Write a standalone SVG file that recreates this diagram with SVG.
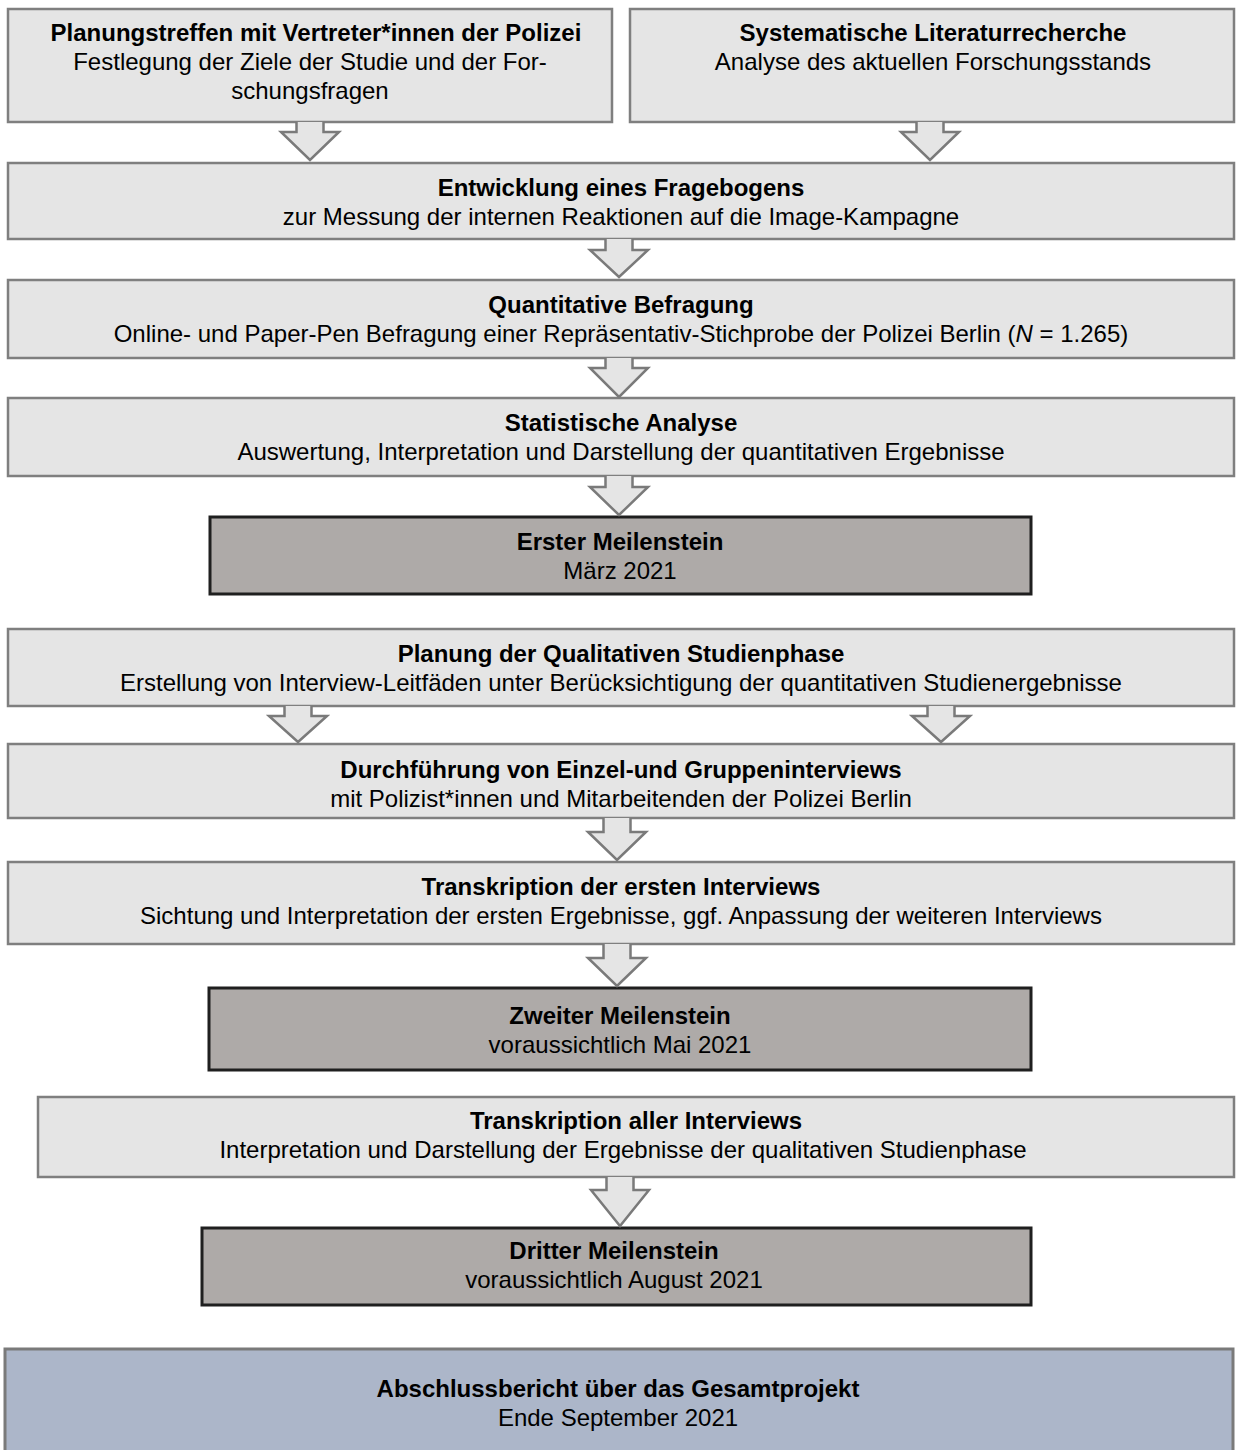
<svg xmlns="http://www.w3.org/2000/svg" width="1236" height="1450" viewBox="0 0 1236 1450">
<style>
.box{fill:#e5e5e5;stroke:#7f7f7f;stroke-width:2.5}
.ms{fill:#aeaaa8;stroke:#1f1f1f;stroke-width:3}
.fin{fill:#acb6c9;stroke:#7a7a7a;stroke-width:3}
.arr{fill:#e5e5e5;stroke:#7a7a7a;stroke-width:2.5;stroke-linejoin:miter}
text{font-family:"Liberation Sans",Arial,sans-serif;font-size:24px;fill:#000;text-anchor:middle}
.t{font-weight:bold}
</style>
<rect width="1236" height="1450" fill="#fff"/>
<g id="n1"><rect class="box" x="8" y="9" width="604" height="113"/>
<text class="t" x="316" y="41">Planungstreffen mit Vertreter*innen der Polizei</text>
<text x="310" y="70">Festlegung der Ziele der Studie und der For-</text>
<text x="310" y="99">schungsfragen</text></g>
<g id="n2"><rect class="box" x="630" y="9" width="604" height="113"/>
<text class="t" x="933" y="41">Systematische Literaturrecherche</text>
<text x="933" y="70">Analyse des aktuellen Forschungsstands</text></g>
<g id="n3"><rect class="box" x="8" y="163" width="1226" height="76"/>
<text class="t" x="621" y="196">Entwicklung eines Fragebogens</text>
<text x="621" y="225">zur Messung der internen Reaktionen auf die Image-Kampagne</text></g>
<g id="n4"><rect class="box" x="8" y="280" width="1226" height="78"/>
<text class="t" x="621" y="313">Quantitative Befragung</text>
<text x="621" y="342">Online- und Paper-Pen Befragung einer Repräsentativ-Stichprobe der Polizei Berlin (<tspan font-style="italic">N</tspan> = 1.265)</text></g>
<g id="n5"><rect class="box" x="8" y="398" width="1226" height="78"/>
<text class="t" x="621" y="431">Statistische Analyse</text>
<text x="621" y="460">Auswertung, Interpretation und Darstellung der quantitativen Ergebnisse</text></g>
<g id="m1"><rect class="ms" x="210" y="517" width="821" height="77"/>
<text class="t" x="620" y="550">Erster Meilenstein</text>
<text x="620" y="579">März 2021</text></g>
<g id="n6"><rect class="box" x="8" y="629" width="1226" height="77"/>
<text class="t" x="621" y="662">Planung der Qualitativen Studienphase</text>
<text x="621" y="691">Erstellung von Interview-Leitfäden unter Berücksichtigung der quantitativen Studienergebnisse</text></g>
<g id="n7"><rect class="box" x="8" y="744" width="1226" height="74"/>
<text class="t" x="621" y="778">Durchführung von Einzel-und Gruppeninterviews</text>
<text x="621" y="807">mit Polizist*innen und Mitarbeitenden der Polizei Berlin</text></g>
<g id="n8"><rect class="box" x="8" y="862" width="1226" height="82"/>
<text class="t" x="621" y="895">Transkription der ersten Interviews</text>
<text x="621" y="924">Sichtung und Interpretation der ersten Ergebnisse, ggf. Anpassung der weiteren Interviews</text></g>
<g id="m2"><rect class="ms" x="209" y="988" width="822" height="82"/>
<text class="t" x="620" y="1024">Zweiter Meilenstein</text>
<text x="620" y="1053">voraussichtlich Mai 2021</text></g>
<g id="n9"><rect class="box" x="38" y="1097" width="1196" height="80"/>
<text class="t" x="636" y="1129">Transkription aller Interviews</text>
<text x="623" y="1158">Interpretation und Darstellung der Ergebnisse der qualitativen Studienphase</text></g>
<g id="m3"><rect class="ms" x="202" y="1228" width="829" height="77"/>
<text class="t" x="614" y="1259">Dritter Meilenstein</text>
<text x="614" y="1288">voraussichtlich August 2021</text></g>
<g id="n10"><rect class="fin" x="5" y="1349" width="1228" height="120"/>
<text class="t" x="618" y="1397">Abschlussbericht über das Gesamtprojekt</text>
<text x="618" y="1426">Ende September 2021</text></g>
<g id="connectors">
<path class="arr" d="M296.5 122 V132 H281 L310 160 L339 132 H323.5 V122"/>
<path class="arr" d="M916.5 122 V132 H901 L930 160 L959 132 H943.5 V122"/>
<path class="arr" d="M605.5 239 V250 H590 L619 277 L648 250 H632.5 V239"/>
<path class="arr" d="M605.5 358 V368 H590 L619 397 L648 368 H632.5 V358"/>
<path class="arr" d="M605.5 476 V487 H590 L619 515 L648 487 H632.5 V476"/>
<path class="arr" d="M284.5 706 V716 H269 L298 742 L327 716 H311.5 V706"/>
<path class="arr" d="M927.5 706 V716 H912 L941 742 L970 716 H954.5 V706"/>
<path class="arr" d="M603.5 818 V832 H588 L617 860 L646 832 H630.5 V818"/>
<path class="arr" d="M603.5 944 V958 H588 L617 986 L646 958 H630.5 V944"/>
<path class="arr" d="M606.5 1177 V1190 H591 L620 1226 L649 1190 H633.5 V1177"/>
</g>
</svg>
